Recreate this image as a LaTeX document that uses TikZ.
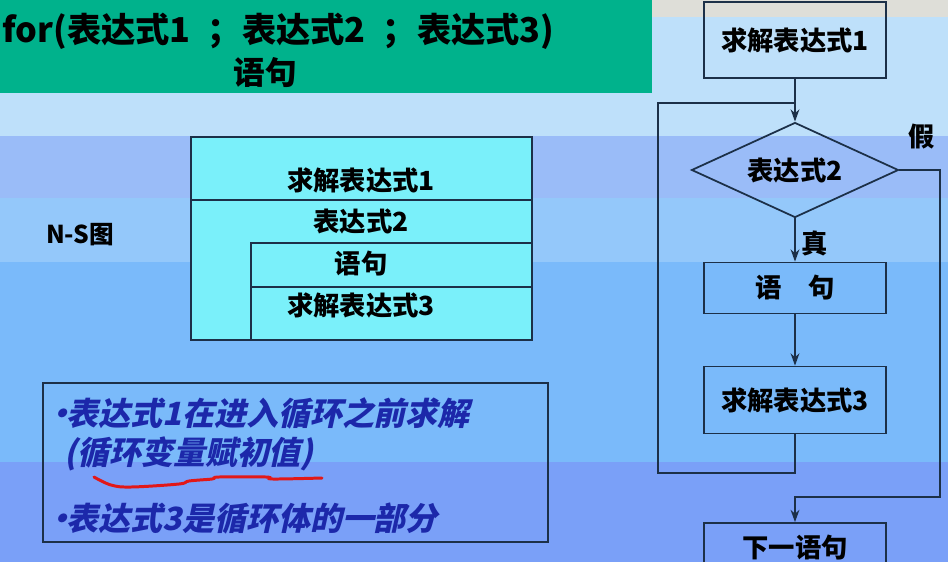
\documentclass[tikz,border=0pt]{standalone}
\usepackage{fontspec}
\setmainfont{Noto Sans CJK SC}
\newfontfamily\slantfont{Noto Sans CJK SC}[FakeSlant=0.22]
\usetikzlibrary{arrows.meta, shapes.geometric}

\definecolor{titlegreen}{RGB}{0,178,140}
\definecolor{graytop}{RGB}{222,222,216}
\definecolor{bandlight}{RGB}{190,224,250}
\definecolor{bandlav}{RGB}{154,188,248}
\definecolor{bandpale}{RGB}{148,200,250}
\definecolor{bandblue}{RGB}{122,186,250}
\definecolor{bandviolet}{RGB}{122,160,248}
\definecolor{nscyan}{RGB}{122,240,250}
\definecolor{linecol}{RGB}{28,48,72}
\definecolor{notecol}{RGB}{28,40,170}
\definecolor{markred}{RGB}{226,24,24}

\begin{document}
\begin{tikzpicture}[x=0.02cm, y=-0.02cm,
  label font/.style={font=\bfseries\fontsize{15}{18}\selectfont},
  box/.style={draw=linecol, line width=1pt, minimum width=3.64cm, inner sep=0pt, label font},
  decision/.style={diamond, aspect=2.18, draw=linecol, line width=1pt, minimum width=4.14cm, minimum height=1.9cm, inner sep=0pt, label font},
  flow/.style={draw=linecol, line width=1pt},
  notetext/.style={anchor=west, inner sep=0pt, text=notecol, font=\slantfont\bfseries\fontsize{18.2}{21}\selectfont}]
\clip (0,0) rectangle (948,562);
%Background:
\fill[bandlight] (0,0) rectangle (948,136);
\fill[graytop] (652,0) rectangle (948,17);
\fill[titlegreen] (0,0) rectangle (652,93);
\fill[bandlav] (0,136) rectangle (948,198);
\fill[bandpale] (0,198) rectangle (948,262);
\fill[bandblue] (0,262) rectangle (948,462);
\fill[bandviolet] (0,462) rectangle (948,562);
%Title:
\node (head) [anchor=west, inner sep=0pt, font=\bfseries\fontsize{19.5}{22}\selectfont] at (2,31) {for(表达式1\enspace；表达式2\enspace；表达式3)};
\node (headbody) [font=\bfseries\fontsize{18}{21}\selectfont] at (265,73) {语句};
%N-S chart:
\node (nslbl) [font=\bfseries\fontsize{14}{16}\selectfont] at (80,235) {N-S图};
\draw[flow, fill=nscyan] (191,137) rectangle (532,340);
\draw[flow] (191,200) -- (532,200);
\draw[flow] (251,340) -- (251,243) -- (532,243);
\draw[flow] (251,287) -- (532,287);
\node (ns1) [label font] at (361,180) {求解表达式1};
\node (ns2) [label font] at (361,221) {表达式2};
\node (ns3) [label font] at (361,264) {语句};
\node (ns4) [label font] at (361,305) {求解表达式3};
%Notes:
\draw[flow, line width=1.2pt] (43,383) rectangle (548,542);
\node (note1) [notetext] at (44,413) {•\hspace{-0.3em}表达式1在进入循环之前求解};
\node (note2) [notetext] at (64,454) {(循环变量赋初值)};
\node (note3) [notetext] at (44,518) {•\hspace{-0.3em}表达式3是循环体的一部分};
\draw[markred, line width=1.7pt, line cap=round] plot[smooth, tension=0.6] coordinates {(94,477) (111,485) (131,487) (179,484) (189,481) (212,479) (219,477) (266,477) (273,479) (322,478)};
%Flow chart:
\node (solve1) [box, minimum height=1.52cm] at (795,40) {求解表达式1};
\node (cond) [decision] at (795,170) {表达式2};
\node (stmt) [box, minimum height=1.02cm] at (795,288) {语\quad 句};
\node (solve3) [box, minimum height=1.34cm] at (795,400) {求解表达式3};
\node (next) [box, minimum height=1.0cm] at (795,548) {下一语句};
\node (nolbl) [label font] at (922,137) {假};
\node (yeslbl) [label font] at (815,243) {真};
\coordinate (backL) at (658,473);
\coordinate (backT) at (658,103);
\coordinate (exitR) at (940,497);
\path [flow, -{Stealth[length=7pt,width=5pt]}]
(solve1) edge (cond)
(cond) edge (stmt)
(stmt) edge (solve3)
;
%Loop back and exit:
\draw [flow] (solve3.south) |- (backL) -- (backT) -- (backT -| cond.north);
\draw [flow, -{Stealth[length=7pt,width=5pt]}] (cond.east) -| (exitR) -| (next.north);
\end{tikzpicture}
\end{document}
